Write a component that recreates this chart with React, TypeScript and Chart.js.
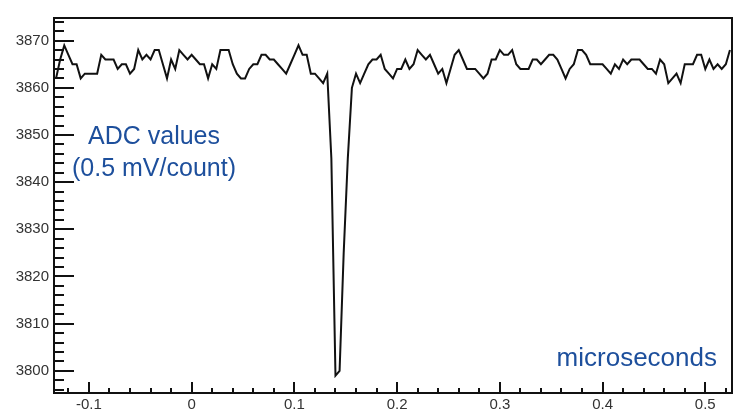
import React, { useEffect, useRef } from 'react';
import { Chart, registerables } from 'chart.js';

Chart.register(...registerables);

// Sampling clock of the digitizer (microseconds)
const FIRST_SAMPLE_TIME = -0.132;
const SAMPLE_PERIOD = 0.004;

// ADC samples
const adcValues: number[] = [
  3862, 3866, 3869, 3867, 3865, 3865, 3862, 3863, 3863, 3863,
  3863, 3867, 3866, 3866, 3866, 3864, 3865, 3865, 3863, 3864,
  3868, 3866, 3867, 3866, 3868, 3868, 3865, 3862, 3866, 3864,
  3868, 3867, 3866, 3867, 3866, 3865, 3865, 3862, 3865, 3864,
  3868, 3868, 3868, 3865, 3863, 3862, 3862, 3864, 3865, 3865,
  3867, 3867, 3866, 3866, 3865, 3864, 3863, 3865, 3867, 3869,
  3867, 3867, 3863, 3863, 3862, 3861, 3863, 3845, 3799, 3800,
  3825, 3845, 3860, 3863, 3861, 3863, 3865, 3866, 3866, 3867,
  3864, 3863, 3862, 3864, 3864, 3866, 3864, 3865, 3868, 3867,
  3866, 3867, 3865, 3863, 3864, 3861, 3864, 3867, 3868, 3866,
  3864, 3864, 3864, 3863, 3862, 3863, 3866, 3866, 3868, 3867,
  3867, 3868, 3865, 3864, 3864, 3864, 3866, 3866, 3865, 3866,
  3867, 3867, 3866, 3864, 3862, 3864, 3865, 3868, 3868, 3867,
  3865, 3865, 3865, 3865, 3864, 3863, 3865, 3864, 3866, 3865,
  3866, 3866, 3866, 3865, 3864, 3864, 3863, 3866, 3865, 3861,
  3862, 3863, 3861, 3865, 3865, 3865, 3867, 3867, 3864, 3866,
  3864, 3865, 3864, 3865, 3868,
];

const sampleTimes: number[] = adcValues.map((_, i) =>
  Number((FIRST_SAMPLE_TIME + i * SAMPLE_PERIOD).toFixed(4))
);

const xTickValues = [-0.1, 0, 0.1, 0.2, 0.3, 0.4, 0.5];
const xTickLabels = ['-0.1', '0', '0.1', '0.2', '0.3', '0.4', '0.5'];
const yTickValues = [3800, 3810, 3820, 3830, 3840, 3850, 3860, 3870];
const yTickLabels = ['3800', '3810', '3820', '3830', '3840', '3850', '3860', '3870'];

const X_MIN = -0.134;
const X_MAX = 0.526;
const Y_MIN = 3795.3;
const Y_MAX = 3874.8;
const X_MINOR_STEP = 0.02;
const Y_MINOR_STEP = 2;

const yAxisTitle = ['ADC values', '(0.5 mV/count)'];
const xAxisTitle = 'microseconds';

const FONT = '"Liberation Sans", Arial, Helvetica, sans-serif';
const TEXT_BLUE = '#1d4f9c';

const framePlugin = {
  id: 'rootFrame',
  afterDraw(chart: any) {
    const { ctx, chartArea } = chart;
    const xs = chart.scales.x;
    const ys = chart.scales.y;
    const { left, right, top, bottom } = chartArea;
    ctx.save();

    // ticks inside the frame
    ctx.strokeStyle = '#111';
    ctx.lineWidth = 2;
    ctx.beginPath();
    const yStart = Math.ceil(Y_MIN / Y_MINOR_STEP) * Y_MINOR_STEP;
    for (let v = yStart; v <= Y_MAX; v += Y_MINOR_STEP) {
      const py = Math.round(ys.getPixelForValue(v));
      const len = v % 10 === 0 ? 20 : 10;
      ctx.moveTo(left, py);
      ctx.lineTo(left + len, py);
    }
    const xStartIdx = Math.ceil(X_MIN / X_MINOR_STEP - 1e-9);
    const xEndIdx = Math.floor(X_MAX / X_MINOR_STEP + 1e-9);
    for (let i = xStartIdx; i <= xEndIdx; i++) {
      const px = Math.round(xs.getPixelForValue(i * X_MINOR_STEP));
      const len = i % 5 === 0 ? 11 : 5;
      ctx.moveTo(px, bottom);
      ctx.lineTo(px, bottom - len);
    }
    ctx.stroke();

    // frame
    ctx.lineWidth = 2;
    ctx.strokeRect(left, top, right - left, bottom - top);

    // tick labels
    ctx.fillStyle = '#333';
    ctx.font = `15px ${FONT}`;
    ctx.textAlign = 'right';
    ctx.textBaseline = 'middle';
    yTickValues.forEach((v, i) => {
      ctx.fillText(yTickLabels[i], left - 5, ys.getPixelForValue(v));
    });
    ctx.textAlign = 'center';
    ctx.textBaseline = 'top';
    xTickValues.forEach((v, i) => {
      ctx.fillText(xTickLabels[i], xs.getPixelForValue(v), bottom + 4);
    });

    // axis titles (inside plot)
    ctx.fillStyle = TEXT_BLUE;
    ctx.font = `25px ${FONT}`;
    ctx.textAlign = 'center';
    ctx.textBaseline = 'middle';
    ctx.fillText(yAxisTitle[0], left + 100, top + 119);
    ctx.fillText(yAxisTitle[1], left + 100, top + 151);
    ctx.font = `26px ${FONT}`;
    ctx.textAlign = 'right';
    ctx.textBaseline = 'alphabetic';
    ctx.fillText(xAxisTitle, right - 15, bottom - 27);

    ctx.restore();
  },
};

export default function App() {
  const canvasRef = useRef<HTMLCanvasElement | null>(null);

  useEffect(() => {
    const canvas = canvasRef.current;
    if (!canvas) return;
    const chart = new Chart(canvas, {
      type: 'line',
      data: {
        datasets: [
          {
            data: sampleTimes.map((t, i) => ({ x: t, y: adcValues[i] })),
            borderColor: '#111',
            borderWidth: 2,
            pointRadius: 0,
            tension: 0,
            fill: false,
          },
        ],
      },
      options: {
        animation: false,
        responsive: false,
        devicePixelRatio: 1,
        layout: { padding: { left: 54, top: 18, right: 16, bottom: 23 } },
        plugins: { legend: { display: false }, tooltip: { enabled: false } },
        scales: {
          x: { type: 'linear', min: X_MIN, max: X_MAX, display: false },
          y: { type: 'linear', min: Y_MIN, max: Y_MAX, display: false },
        },
      },
      plugins: [framePlugin],
    });
    return () => chart.destroy();
  }, []);

  return (
    <div style={{ position: 'absolute', left: 0, top: 0, width: 748, height: 416, background: '#fff' }}>
      <canvas ref={canvasRef} width={748} height={416} style={{ display: 'block' }} />
    </div>
  );
}
